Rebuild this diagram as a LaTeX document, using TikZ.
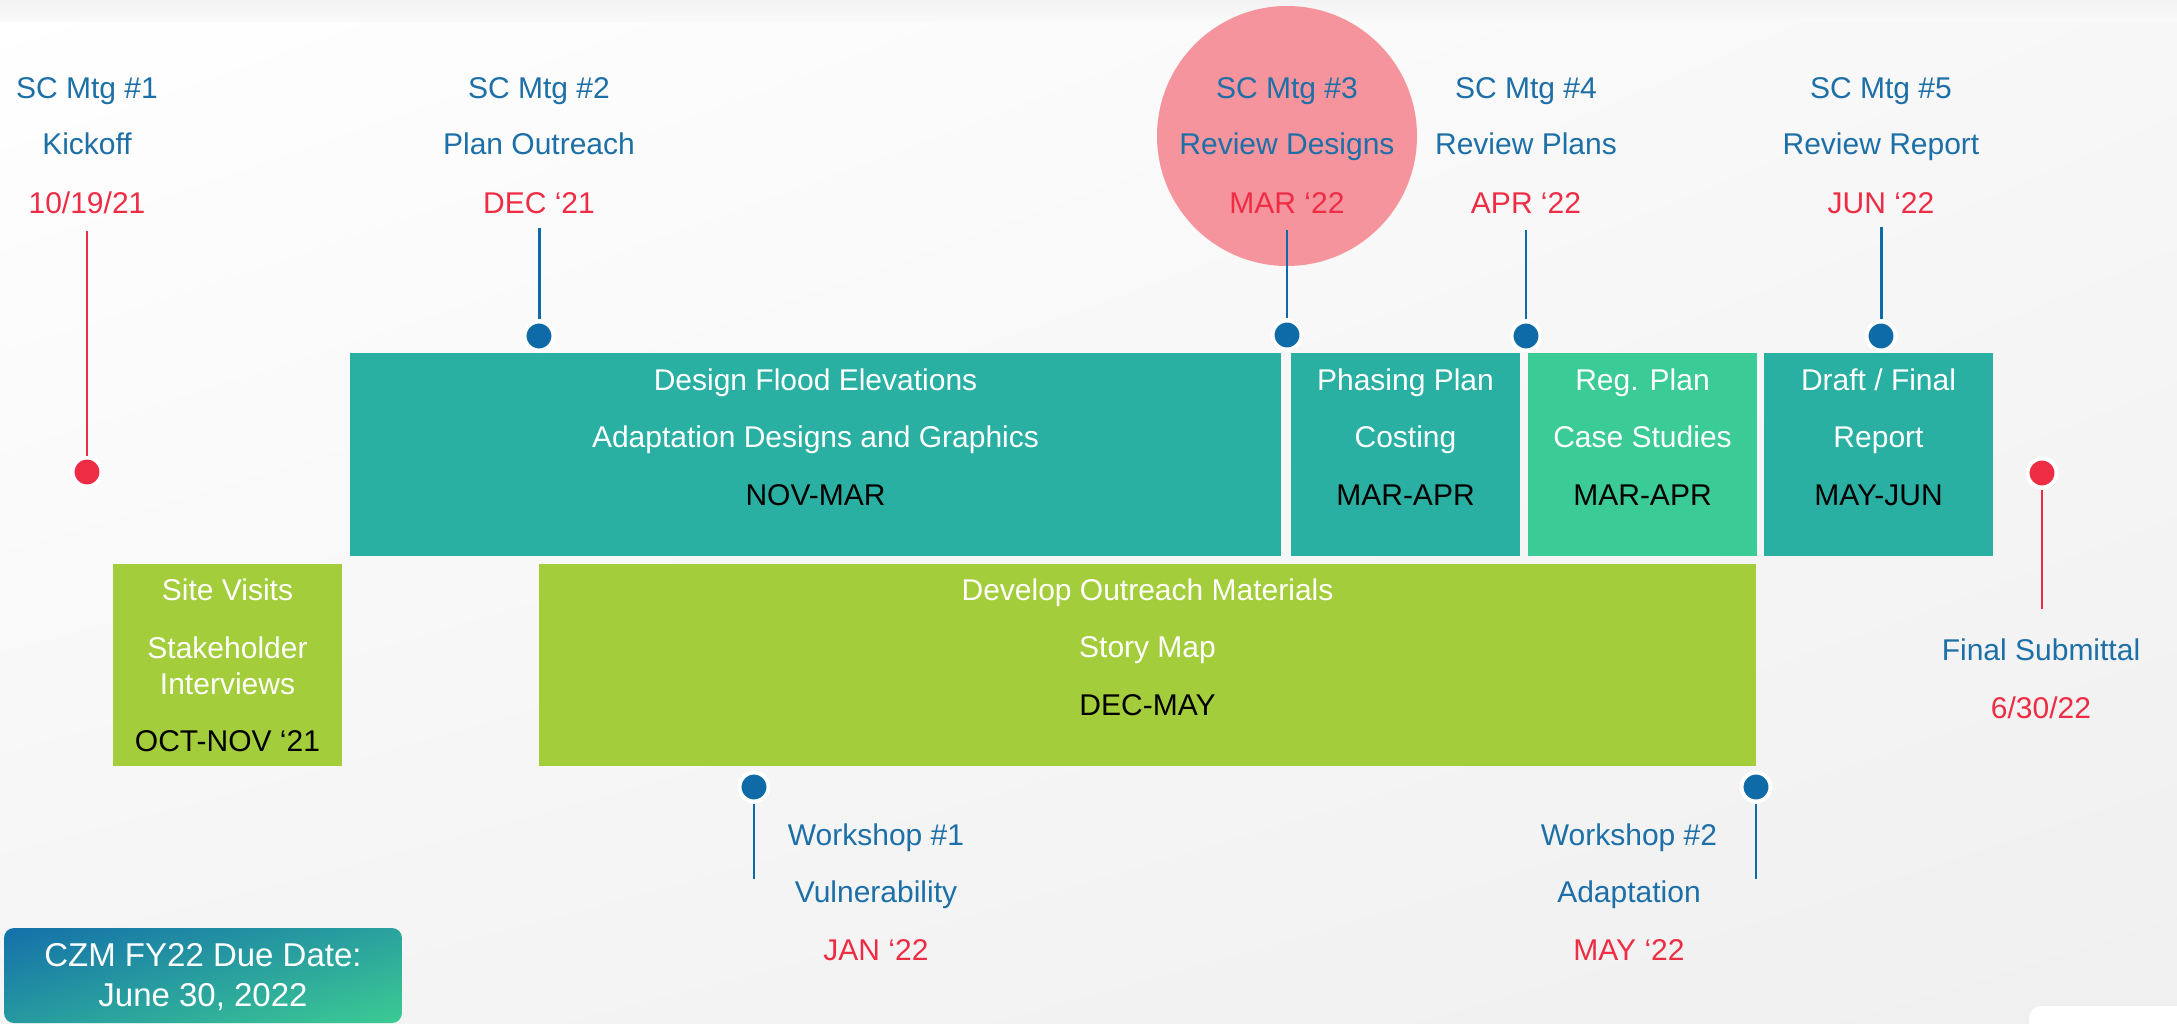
\documentclass[tikz,border=0pt]{standalone}
\usepackage{fontspec}
\setmainfont{Liberation Sans}
\usetikzlibrary{shadings}
\definecolor{cblue}{HTML}{1D6FA7}
\definecolor{cdot}{HTML}{0E6BA8}
\definecolor{cred}{HTML}{EE2D45}
\definecolor{cteal}{HTML}{2AAFA3}
\definecolor{cmint}{HTML}{3BCB96}
\definecolor{clime}{HTML}{A3CD3B}
\definecolor{cpink}{HTML}{F5949D}
\definecolor{czmblue}{HTML}{1470AA}
\definecolor{czmgreen}{HTML}{3CCB93}
\begin{document}
\begin{tikzpicture}[x=1pt,y=-1pt,
  lbl/.style={inner sep=0pt, text height=21.5pt, text depth=0pt, font=\fontsize{30}{36}\selectfont},
  bluetxt/.style={lbl, text=cblue},
  redtxt/.style={lbl, text=cred},
  wtxt/.style={lbl, text=white},
  ktxt/.style={lbl, text=black},
  bar/.style={draw=none, inner sep=0pt, minimum height=203pt},
  dotb/.style={circle, fill=cdot, draw=white, line width=4pt, minimum size=29pt, inner sep=0pt},
  dotr/.style={dotb, fill=cred},
  thinln/.style={line width=1.5pt},
  thickln/.style={line width=3pt}
]
\useasboundingbox (0,0) rectangle (2177,1024);
% background
\shade[upper left=white, upper right=white!97!black, lower left=white!96!black, lower right=white!94!black] (0,0) rectangle (2177,1024);
\shade[top color=white!95!black, bottom color=white!98!black] (0,0) rectangle (2177,22);
% highlight circle
\node[circle, fill=cpink, minimum size=260pt, inner sep=0pt] (hl) at (1287,136) {};
% boxes
\node[bar, fill=cteal, minimum width=931pt] (bdesign) at (815.5,454.5) {};
\node[bar, fill=cteal, minimum width=229pt] (bphase) at (1405.5,454.5) {};
\node[bar, fill=cmint, minimum width=229pt] (breg) at (1642.5,454.5) {};
\node[bar, fill=cteal, minimum width=229pt] (bdraft) at (1878.5,454.5) {};
\node[bar, fill=clime, minimum width=229pt, minimum height=202pt] (bsite) at (227.5,665) {};
\node[bar, fill=clime, minimum width=1217pt, minimum height=202pt] (bdev) at (1147.5,665) {};
% box texts
\node[wtxt] (t1a) at (815.5,380) {Design Flood Elevations};
\node[wtxt] (t1b) at (815.5,437) {Adaptation Designs and Graphics};
\node[ktxt] (t1c) at (815.5,495) {NOV-MAR};
\node[wtxt] (t2a) at (1405.5,380) {Phasing Plan};
\node[wtxt] (t2b) at (1405.5,437) {Costing};
\node[ktxt] (t2c) at (1405.5,495) {MAR-APR};
\node[wtxt] (t3a) at (1642.5,380) {Reg. Plan};
\node[wtxt] (t3b) at (1642.5,437) {Case Studies};
\node[ktxt] (t3c) at (1642.5,495) {MAR-APR};
\node[wtxt] (t4a) at (1878.5,380) {Draft / Final};
\node[wtxt] (t4b) at (1878.5,437) {Report};
\node[ktxt] (t4c) at (1878.5,495) {MAY-JUN};
\node[wtxt] (t5a) at (227.5,589.5) {Site Visits};
\node[wtxt] (t5b) at (227.5,648) {Stakeholder};
\node[wtxt] (t5c) at (227.5,684) {Interviews};
\node[ktxt] (t5d) at (227.5,741) {OCT-NOV `21};
\node[wtxt] (t6a) at (1147.5,589.5) {Develop Outreach Materials};
\node[wtxt] (t6b) at (1147.5,647) {Story Map};
\node[ktxt] (t6c) at (1147.5,705) {DEC-MAY};
% meeting labels
\node[bluetxt] (m1a) at (87,87.5) {SC Mtg \#1};
\node[bluetxt] (m1b) at (87,144) {Kickoff};
\node[redtxt] (m1c) at (87,203) {10/19/21};
\node[bluetxt] (m2a) at (539,87.5) {SC Mtg \#2};
\node[bluetxt] (m2b) at (539,144) {Plan Outreach};
\node[redtxt] (m2c) at (539,203) {DEC `21};
\node[bluetxt] (m3a) at (1287,87.5) {SC Mtg \#3};
\node[bluetxt] (m3b) at (1287,144) {Review Designs};
\node[redtxt] (m3c) at (1287,203) {MAR `22};
\node[bluetxt] (m4a) at (1526,87.5) {SC Mtg \#4};
\node[bluetxt] (m4b) at (1526,144) {Review Plans};
\node[redtxt] (m4c) at (1526,203) {APR `22};
\node[bluetxt] (m5a) at (1881,87.5) {SC Mtg \#5};
\node[bluetxt] (m5b) at (1881,144) {Review Report};
\node[redtxt] (m5c) at (1881,203) {JUN `22};
\node[bluetxt] (fa) at (2041,650) {Final Submittal};
\node[redtxt] (fb) at (2041,708) {6/30/22};
\node[bluetxt] (w1a) at (876,835) {Workshop \#1};
\node[bluetxt] (w1b) at (876,892) {Vulnerability};
\node[redtxt] (w1c) at (876,950) {JAN `22};
\node[bluetxt] (w2a) at (1629,835) {Workshop \#2};
\node[bluetxt] (w2b) at (1629,892) {Adaptation};
\node[redtxt] (w2c) at (1629,950) {MAY `22};
% line ends
\coordinate (c1) at (87,231);
\coordinate (c2) at (539,228);
\coordinate (c3) at (1287,230);
\coordinate (c4) at (1526,230);
\coordinate (c5) at (1881,227);
\coordinate (cf) at (2042,609);
\coordinate (cw1) at (754,879);
\coordinate (cw2) at (1756,879);
% dots
\node[dotr] (d1) at (87,472) {};
\node[dotb] (d2) at (539,336) {};
\node[dotb] (d3) at (1287,335) {};
\node[dotb] (d4) at (1526,336) {};
\node[dotb] (d5) at (1881,336) {};
\node[dotr] (df) at (2042,473) {};
\node[dotb] (dw1) at (754,787) {};
\node[dotb] (dw2) at (1756,787) {};
% connectors
\draw[cred, thinln] (c1) -- (d1);
\draw[cdot, thickln] (c2) -- (d2);
\draw[cdot, thinln] (c3) -- (d3);
\draw[cdot, thinln] (c4) -- (d4);
\draw[cdot, thickln] (c5) -- (d5);
\draw[cred, thinln] (df) -- (cf);
\draw[cdot, line width=2.5pt] (dw1) -- (cw1);
\draw[cdot, line width=2.5pt] (dw2) -- (cw2);
% due date box
\node[rounded corners=10pt, inner sep=0pt, minimum width=398pt, minimum height=95pt,
  upper left=czmblue, lower right=czmgreen, upper right=czmblue!45!czmgreen, lower left=czmblue!55!czmgreen] (czm) at (203,975.5) {};
\node[lbl, text=white, font=\fontsize{33}{40}\selectfont, text height=23.5pt] (czma) at (203,955) {CZM FY22 Due Date:};
\node[lbl, text=white, font=\fontsize{33}{40}\selectfont, text height=23.5pt] (czmb) at (203,995) {June 30, 2022};
% corner placeholder
\node[rounded corners=12pt, fill=white, minimum width=190pt, minimum height=50pt, inner sep=0pt] (corner) at (2124,1031) {};
\end{tikzpicture}
\end{document}
